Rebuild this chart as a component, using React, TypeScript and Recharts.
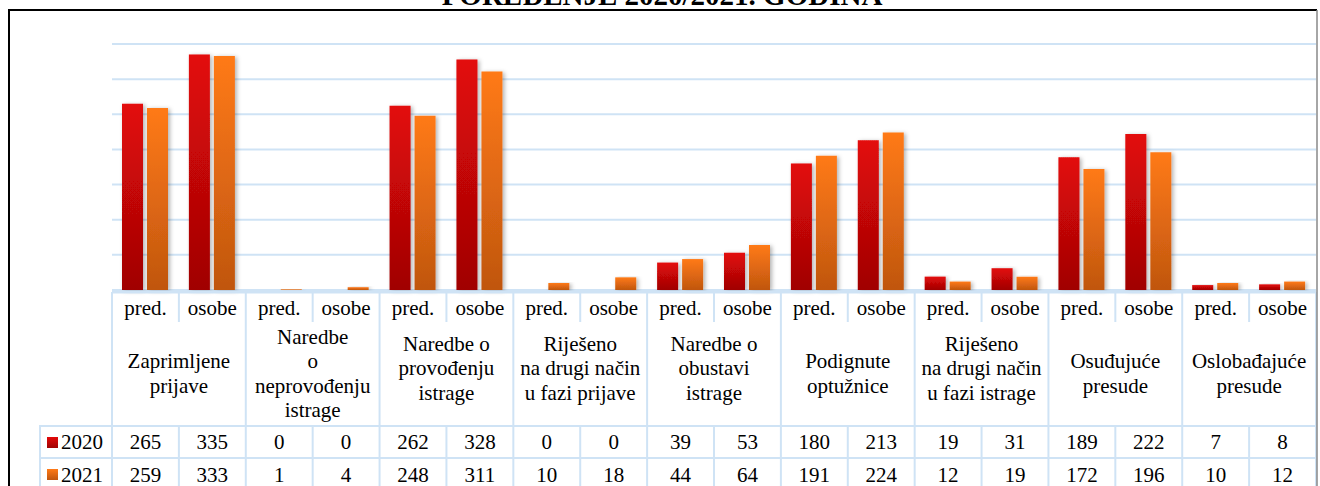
import React from 'react';
import { BarChart, Bar, XAxis, YAxis, CartesianGrid } from 'recharts';

const groupLabels = [
  ['Zaprimljene', 'prijave'],
  ['Naredbe', 'o', 'neprovođenju', 'istrage'],
  ['Naredbe o', 'provođenju', 'istrage'],
  ['Riješeno', 'na drugi način', 'u fazi prijave'],
  ['Naredbe o', 'obustavi', 'istrage'],
  ['Podignute', 'optužnice'],
  ['Riješeno', 'na drugi način', 'u fazi istrage'],
  ['Osuđujuće', 'presude'],
  ['Oslobađajuće', 'presude'],
];
const subLabels = ['pred.', 'osobe'];
const values2020 = [265, 335, 0, 0, 262, 328, 0, 0, 39, 53, 180, 213, 19, 31, 189, 222, 7, 8];
const values2021 = [259, 333, 1, 4, 248, 311, 10, 18, 44, 64, 191, 224, 12, 19, 172, 196, 10, 12];
const yTicks = [0, 50, 100, 150, 200, 250, 300, 350];
const title = 'POREĐENJE 2020/2021. GODINA';

const data = values2020.map((v, i) => ({
  key: 'c' + i,
  sub: subLabels[i % 2],
  group: Math.floor(i / 2),
  y2020: v,
  y2021: values2021[i],
}));

const W = 1320;
const H = 486;
const LEFT = 112;
const RIGHT = 4;
const BASE = 290;
const BAND = (W - LEFT - RIGHT) / data.length;
const LINE = '#cfe3f5';
const FONT = "'Liberation Serif', 'Times New Roman', serif";
const txt: React.CSSProperties = { fontFamily: FONT, fontSize: 21, fill: '#000' };

function TableTick(props: any) {
  const { x, payload } = props;
  const i = data.findIndex((d) => d.key === payload.value);
  if (i < 0) return null;
  const d = data[i];
  const left = x - BAND / 2;
  const right = x + BAND / 2;
  const isFirst = d.sub === 'pred.';
  const lines = groupLabels[d.group];
  const mid = lines.length % 2 ? 375 : 380.5;
  const firstBase = mid - ((lines.length - 1) / 2) * 24.5;
  return (
    <g>
      {i === 0 && (
        <g>
          <line x1={40} y1={426} x2={W - RIGHT} y2={426} stroke={LINE} strokeWidth={2} />
          <line x1={40} y1={458} x2={W - RIGHT} y2={458} stroke={LINE} strokeWidth={2} />
          <line x1={40} y1={425} x2={40} y2={H} stroke={LINE} strokeWidth={2} />
          <line x1={LEFT} y1={BASE + 2} x2={W - RIGHT} y2={BASE + 2} stroke={LINE} strokeWidth={3} />
          <rect x={47} y={437} width={11} height={11} fill="url(#g2020)" />
          <text x={61} y={449} textAnchor="start" style={txt}>2020</text>
          <rect x={47} y={469} width={11} height={11} fill="url(#g2021)" />
          <text x={61} y={482} textAnchor="start" style={txt}>2021</text>
        </g>
      )}
      <line x1={left} y1={BASE + 2} x2={left} y2={isFirst ? H : 322} stroke={LINE} strokeWidth={2} />
      {isFirst || <line x1={left} y1={426} x2={left} y2={H} stroke={LINE} strokeWidth={2} />}
      {i === data.length - 1 && (
        <line x1={right} y1={BASE + 2} x2={right} y2={H} stroke={LINE} strokeWidth={2} />
      )}
      <text x={x} y={315} textAnchor="middle" style={txt}>{d.sub}</text>
      {isFirst &&
        lines.map((t, k) => (
          <text key={k} x={right} y={firstBase + k * 24.5} textAnchor="middle" style={txt}>
            {t}
          </text>
        ))}
      <text x={x} y={449} textAnchor="middle" style={txt}>{d.y2020}</text>
      <text x={x} y={482} textAnchor="middle" style={txt}>{d.y2021}</text>
    </g>
  );
}

export default function App() {
  return (
    <div style={{ position: 'absolute', left: 0, top: 0, width: W, height: H, background: '#fff', overflow: 'hidden' }}>
      <BarChart
        width={W}
        height={H}
        data={data}
        margin={{ top: 44, right: RIGHT, left: LEFT, bottom: 0 }}
        barCategoryGap={10}
        barGap={4}
      >
        <defs>
          <linearGradient id="g2020" x1="0" y1="0" x2="0" y2="1">
            <stop offset="0%" stopColor="#e30909" />
            <stop offset="100%" stopColor="#a00404" />
          </linearGradient>
          <linearGradient id="g2021" x1="0" y1="0" x2="0" y2="1">
            <stop offset="0%" stopColor="#ff7a17" />
            <stop offset="100%" stopColor="#c0560f" />
          </linearGradient>
          <filter id="shadow" x="-30%" y="-10%" width="160%" height="120%">
            <feDropShadow dx="2" dy="1" stdDeviation="2" floodColor="#000" floodOpacity="0.3" />
          </filter>
        </defs>
        <CartesianGrid vertical={false} stroke={LINE} strokeWidth={2} />
        <XAxis
          dataKey="key"
          height={H - BASE}
          interval={0}
          tickLine={false}
          axisLine={false}
          tick={<TableTick />}
        />
        <YAxis hide domain={[0, 350]} ticks={yTicks} />
        <Bar dataKey="y2020" fill="url(#g2020)" filter="url(#shadow)" isAnimationActive={false} />
        <Bar dataKey="y2021" fill="url(#g2021)" filter="url(#shadow)" isAnimationActive={false} />
      </BarChart>
      <svg width={W} height={H} style={{ position: 'absolute', left: 0, top: 0, pointerEvents: 'none' }}>
        <line x1={8} y1={10} x2={1317} y2={10} stroke="#000" strokeWidth={2} />
        <line x1={9} y1={9} x2={9} y2={H} stroke="#000" strokeWidth={2} />
        <line x1={1317} y1={10} x2={1317} y2={H} stroke="#888" strokeWidth={1.5} />
        <text x={662} y={5} textAnchor="middle" style={{ fontFamily: FONT, fontWeight: 'bold', fontSize: 29 }}>
          {title}
        </text>
      </svg>
    </div>
  );
}
